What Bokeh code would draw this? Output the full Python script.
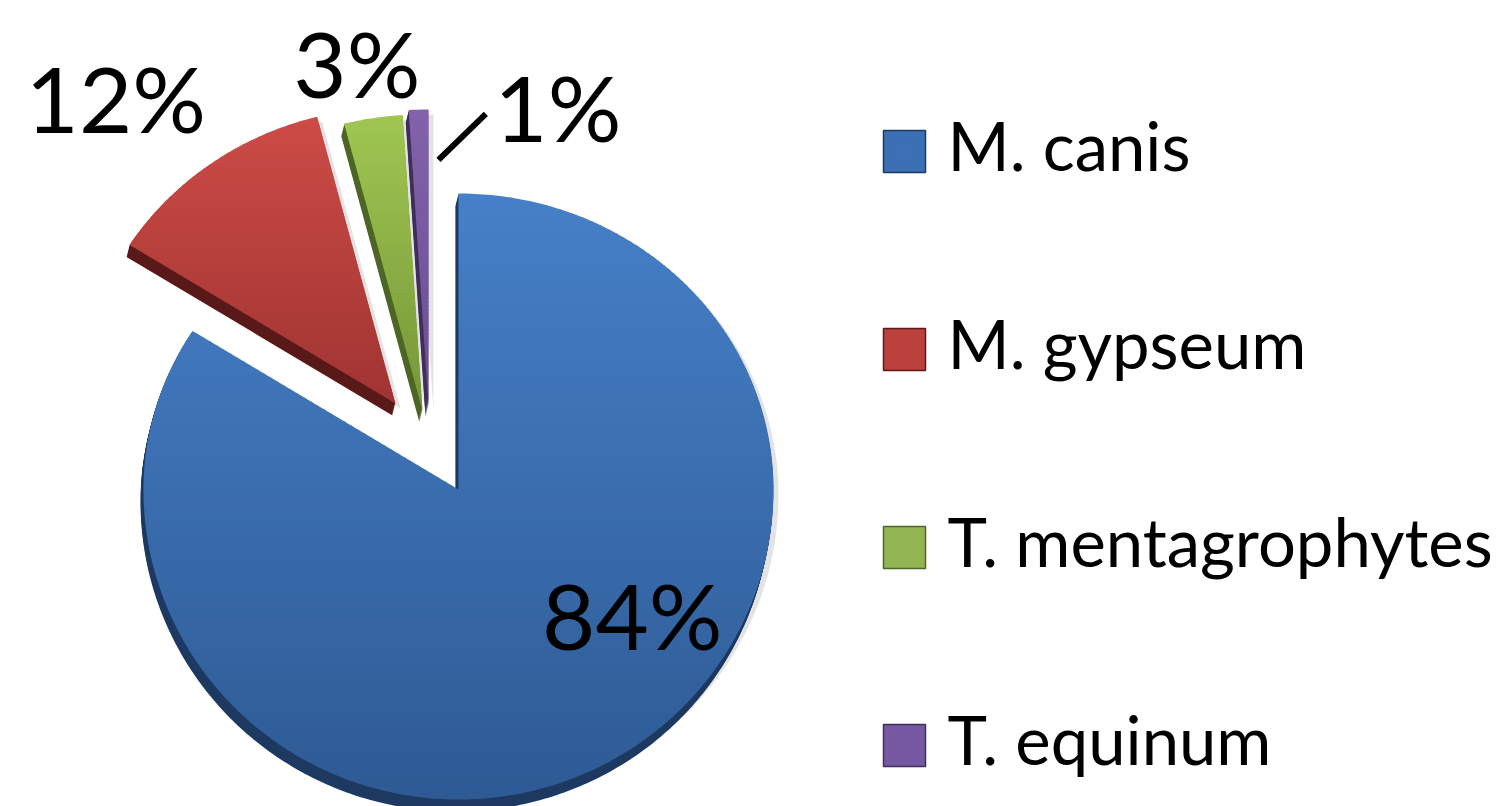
import math
from bokeh.plotting import figure
from bokeh.models import Range1d, ColumnDataSource
from bokeh.core.properties import value
from bokeh.embed import file_html
from bokeh.resources import INLINE

# ---------------- data ----------------
categories = ["M. canis", "M. gypseum", "T. mentagrophytes", "T. equinum"]
percents = [84, 12, 3, 1]
pct_labels = ["84%", "12%", "3%", "1%"]

# ---------------- styling / layout ----------------
FACE = ["#3C70B4", "#BB413E", "#93B551", "#7659A2"]
GRAD_TOP = [(70, 128, 200), (205, 75, 70), (160, 198, 82), (130, 98, 172)]
GRAD_BOT = [(46, 90, 148), (160, 52, 50), (118, 150, 55), (104, 78, 146)]
SIDE = ["#1E3A62", "#5A1A1A", "#4E6627", "#41305A"]
EXPLODE = [(0, 0), (-63, -86), (-36, -79), (-30, -84)]   # apex shift of each slice (px)
LABEL_K = [0.70, 1.34, 1.165, 1.064]                      # label distance / radius
LABEL_DA = [-23.2, -5.5, -1.3, 24.5]                      # label angle shift (deg)
CX, CY = 458, 489
RX, RY_UP, RY_DOWN = 315, 296, 310
DEPTH = (-3, 12)
FONT = "Lato"
PCT_FS = 92
LEG_FS = 67
PCT_FIX = 0.455   # renderer baseline correction (fraction of font size)
LEG_FIX = 0.43

W, H = 1511, 806
p = figure(width=W, height=H, output_backend="svg", toolbar_location=None,
           x_range=Range1d(0, W), y_range=Range1d(H, 0),
           x_axis_type=None, y_axis_type=None, min_border=0)
p.outline_line_color = None
p.grid.visible = False
p.background_fill_color = "white"


def pt(ax, ay, th, frac=1.0):
    r = math.radians(th)
    s, c = math.sin(r), math.cos(r)
    ry = RY_UP if c > 0 else RY_DOWN
    return ax + RX * frac * s, ay - ry * frac * c


def clip_half(pts, yv, keep_below):
    out = []
    n = len(pts)
    for k in range(n):
        a = pts[k]
        b = pts[(k + 1) % n]
        ina = (a[1] >= yv) if keep_below else (a[1] <= yv)
        inb = (b[1] >= yv) if keep_below else (b[1] <= yv)
        if ina:
            out.append(a)
        if ina != inb:
            t = (yv - a[1]) / (b[1] - a[1])
            out.append((a[0] + t * (b[0] - a[0]), yv))
    return out


def hexc(c):
    return "#%02x%02x%02x" % tuple(int(round(v)) for v in c)


total = float(sum(percents))
starts, ends = [], []
acc = 0.0
for v in percents:
    starts.append(360.0 * acc / total)
    acc += v
    ends.append(360.0 * acc / total)

polys = []
for i in range(len(percents)):
    ax, ay = CX + EXPLODE[i][0], CY + EXPLODE[i][1]
    a0, a1 = starts[i], ends[i]
    n = max(4, int((a1 - a0) / 0.75))
    xs, ys = [ax], [ay]
    for k in range(n + 1):
        x, y = pt(ax, ay, a0 + (a1 - a0) * k / n)
        xs.append(x)
        ys.append(y)
    polys.append((xs, ys, ax, ay))

# soft shadows
for i, (xs, ys, ax, ay) in enumerate(polys):
    p.patch([x + 5 for x in xs], [y + 5 for y in ys], fill_color="#7f7f7f",
            fill_alpha=0.22, line_color=None)

# extruded sides and gradient top faces
STEP = 4
for i, (xs, ys, ax, ay) in enumerate(polys):
    steps = 12
    sx, sy = [], []
    for d in range(steps, 0, -1):
        f = d / steps
        sx.append([x + DEPTH[0] * f for x in xs])
        sy.append([y + DEPTH[1] * f for y in ys])
    p.patches(sx, sy, fill_color=SIDE[i], line_color=None)

    pts = list(zip(xs, ys))
    y0, y1 = min(ys), max(ys)
    bx, by, bc = [], [], []
    yy = y0
    while yy < y1:
        part = clip_half(pts, yy, True)
        if part:
            part = clip_half(part, min(yy + STEP + 1.0, y1), False)
        if len(part) >= 3:
            t = (yy + STEP / 2 - y0) / (y1 - y0)
            t = min(max(t, 0.0), 1.0)
            col = [GRAD_TOP[i][j] + (GRAD_BOT[i][j] - GRAD_TOP[i][j]) * t for j in range(3)]
            bx.append([q[0] for q in part])
            by.append([q[1] for q in part])
            bc.append(hexc(col))
        yy += STEP
    gsrc = ColumnDataSource(dict(xs=bx, ys=by, c=bc))
    p.patches(xs="xs", ys="ys", fill_color="c", line_color=None, source=gsrc)

# percentage labels
lx, ly, lcy = [], [], []
for i in range(len(percents)):
    ax, ay = polys[i][2], polys[i][3]
    mid = (starts[i] + ends[i]) / 2.0 + LABEL_DA[i]
    x, y = pt(ax, ay, mid, LABEL_K[i])
    lx.append(x)
    lcy.append(y)
    ly.append(y + 33 - PCT_FIX * PCT_FS)
src = ColumnDataSource(dict(x=lx, y=ly, t=pct_labels))
p.text(x="x", y="y", text="t", source=src, text_align="center",
       text_baseline="alphabetic", text_font=value(FONT),
       text_font_size=f"{PCT_FS}px", text_color="black")

# leader line for the smallest slice
pax, pay = polys[3][2], polys[3][3]
p.segment(x0=[pax + 10], y0=[pay - 0.83 * RY_UP], x1=[lx[3] - 72], y1=[lcy[3] - 1],
          line_color="black", line_width=6)

# legend
LEG_Y0, LEG_DY = 173, 198
leg_base = [LEG_Y0 + LEG_DY * i for i in range(len(categories))]
leg_sq_y = [b - 22 for b in leg_base]
p.rect(x=[904] * len(categories), y=leg_sq_y, width=42, height=42,
       width_units="screen", height_units="screen",
       fill_color=FACE, line_color=SIDE, line_width=1.5)
p.rect(x=[904] * len(categories), y=leg_sq_y, width=30, height=30,
       width_units="screen", height_units="screen",
       fill_color=FACE, line_color=None, fill_alpha=0.6)
lsrc = ColumnDataSource(dict(x=[947] * len(categories),
                             y=[b - LEG_FIX * LEG_FS for b in leg_base], t=categories))
p.text(x="x", y="y", text="t", source=lsrc, text_align="left",
       text_baseline="alphabetic", text_font=value(FONT),
       text_font_size=f"{LEG_FS}px", text_color="black")

open("out.html", "w").write(file_html(p, INLINE))
